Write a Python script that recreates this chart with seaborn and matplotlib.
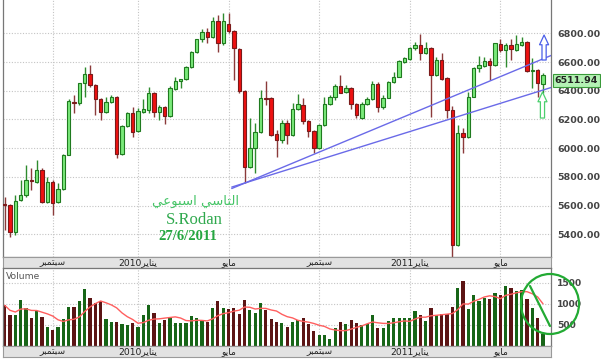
import re
import numpy as np
import pandas as pd
import matplotlib
matplotlib.use("Agg")
import matplotlib.pyplot as plt
import seaborn as sns
from matplotlib.patches import Ellipse
from matplotlib.lines import Line2D
from matplotlib.transforms import blended_transform_factory

# ---------------- data ----------------
opens = [5611,5604,5416,5639,5674,5778,5764,5848,5625,5764,
         5625,5716,5952,6322,6315,6454,6517,6440,6342,6252,
         6322,6356,5959,6154,6245,6120,6252,6266,6384,6252,
         6287,6224,6412,6468,6482,6565,6670,6760,6809,6774,
         6886,6732,6865,6816,6691,6398,5869,6001,6113,6349,
         6349,6099,6057,6175,6092,6273,6301,6189,6120,6001,
         6161,6308,6356,6433,6391,6419,6308,6210,6308,6342,
         6447,6287,6349,6461,6496,6600,6621,6698,6719,6663,
         6698,6510,6614,6489,6266,5326,6106,6078,6356,6558,
         6572,6607,6579,6725,6684,6719,6684,6719,6739,6537,
         6544,6447]
highs = [5660,5610,5674,5778,5883,5862,5918,5862,5799,5778,
         5757,5959,6342,6370,6454,6565,6579,6447,6349,6356,
         6370,6363,6161,6252,6287,6280,6342,6426,6391,6301,
         6294,6433,6496,6482,6572,6677,6760,6830,6837,6914,
         6928,6941,6941,6823,6698,6405,6210,6175,6405,6468,
         6356,6127,6196,6196,6315,6377,6349,6196,6127,6168,
         6356,6370,6447,6510,6440,6426,6315,6322,6356,6468,
         6461,6370,6468,6530,6614,6635,6705,6739,6795,6739,
         6705,6635,6663,6496,6294,6161,6140,6391,6565,6642,
         6635,6628,6732,6760,6732,6760,6788,6774,6746,6628,
         6551,6524]
lows = [5430,5381,5395,5632,5660,5709,5757,5618,5620,5534,
        5618,5710,5950,6245,6300,6356,6426,6231,6196,6245,
        6315,5931,5952,6147,6078,6113,6245,6245,6217,6196,
        6168,6217,6405,6419,6475,6558,6663,6739,6732,6767,
        6670,6719,6802,6475,6384,5757,5862,5827,6106,6301,
        6085,5939,6036,6029,6085,6266,6168,6078,5966,5994,
        6154,6301,6336,6384,6384,6273,6210,6203,6301,6336,
        6252,6273,6349,6454,6496,6593,6614,6684,6614,6656,
        6217,6503,6475,6210,5230,5320,5966,6071,6356,6530,
        6565,6475,6572,6670,6565,6614,6677,6712,6530,6419,
        6356,6384]
closes = [5604,5416,5632,5674,5778,5771,5848,5625,5764,5618,
          5716,5952,6328,6315,6454,6517,6440,6342,6252,6322,
          6356,5959,6154,6245,6113,6259,6273,6384,6252,6287,
          6224,6419,6468,6482,6565,6670,6760,6809,6774,6886,
          6732,6886,6816,6698,6398,5869,6001,6113,6349,6342,
          6092,6057,6175,6092,6273,6308,6189,6120,6001,6161,
          6308,6356,6433,6384,6419,6308,6231,6308,6342,6447,
          6287,6349,6461,6496,6607,6628,6698,6719,6663,6698,
          6510,6614,6482,6266,5326,6106,6078,6356,6558,6579,
          6607,6579,6732,6684,6719,6691,6725,6739,6537,6544,
          6454,6511.94]
volumes = [961,722,722,1080,903,650,824,681,442,363,
           450,626,920,920,1063,1343,1128,1008,1063,626,
           569,569,506,490,545,442,722,961,769,545,
           609,650,545,530,545,705,650,585,562,889,
           1063,889,865,903,746,1087,848,769,1008,848,
           645,570,545,450,562,609,665,522,347,251,
           251,148,426,562,522,602,545,482,506,729,
           426,426,585,665,650,650,650,824,729,585,
           903,722,746,746,927,1382,1541,865,1200,1063,
           1143,1119,1247,1200,1422,1382,1303,1327,1119,903,
           665,280]
ma_window = 7

month_pos = [9, 25, 42, 59, 76, 93]
month_labels = ["سبتمبر", "يناير2010", "مايو", "سبتمبر", "يناير2011", "مايو"]
price_ticks = [5400, 5600, 5800, 6000, 6200, 6400, 6600, 6800]
vol_ticks = [500, 1000, 1500]

# hand-drawn annotations (trend lines and arrows) in chart units
trend_x = [42.6, 103.0]
trend_upper = [5719, 6653]
trend_lower = [5729, 6428]
arrow_x = [101.2, 100.9]
arrow_tip = [6788, 6391]
arrow_tail = [6614, 6210]
arrow_colors = ["#4a5ee8", "#4ccf6e"]

note_lines = ["التاسي اسبوعي", "S.Rodan", "27/6/2011"]

# ---------------- arabic shaping helpers ----------------
FORMS = {
    "ا": (0xFE8D, 0xFE8E, None, None),
    "ب": (0xFE8F, 0xFE90, 0xFE91, 0xFE92),
    "ت": (0xFE95, 0xFE96, 0xFE97, 0xFE98),
    "ر": (0xFEAD, 0xFEAE, None, None),
    "س": (0xFEB1, 0xFEB2, 0xFEB3, 0xFEB4),
    "ع": (0xFEC9, 0xFECA, 0xFECB, 0xFECC),
    "ل": (0xFEDD, 0xFEDE, 0xFEDF, 0xFEE0),
    "م": (0xFEE1, 0xFEE2, 0xFEE3, 0xFEE4),
    "ن": (0xFEE5, 0xFEE6, 0xFEE7, 0xFEE8),
    "و": (0xFEED, 0xFEEE, None, None),
    "ي": (0xFEF1, 0xFEF2, 0xFEF3, 0xFEF4),
}


def shape(w):
    out = []
    n = len(w)
    for i, ch in enumerate(w):
        if ch not in FORMS:
            out.append(ch)
            continue
        iso, fin, ini, med = FORMS[ch]
        pj = i > 0 and w[i - 1] in FORMS and FORMS[w[i - 1]][2] is not None
        nj = i < n - 1 and w[i + 1] in FORMS and ini is not None
        cp = med if (pj and nj) else fin if pj else ini if nj else iso
        out.append(chr(cp))
    return "".join(out)


def rtl(s):
    runs = re.findall(r"[0-9A-Za-z./]+|[^0-9A-Za-z./]+", s)
    vis = [r if re.match(r"[0-9A-Za-z./]", r) else shape(r)[::-1] for r in runs]
    return "".join(vis[::-1])


# ---------------- figure ----------------
sns.set_style("white")
plt.rcParams["font.family"] = ["DejaVu Sans"]

W, H = 601, 359
fig = plt.figure(figsize=(W / 100, H / 100), dpi=100)
fig.patch.set_facecolor("white")


def fax(x0, y0, x1, y1):
    return fig.add_axes([x0 / W, 1 - y1 / H, (x1 - x0) / W, (y1 - y0) / H])


ax = fax(3, 0, 551, 257)
strip1 = fax(3, 257, 551, 268)
vax = fax(3, 268, 551, 346)
strip2 = fax(3, 346, 551, 357)

df = pd.DataFrame({"i": np.arange(len(opens)), "open": opens, "high": highs,
                   "low": lows, "close": closes, "volume": volumes})
df["dir"] = np.where(df["close"] >= df["open"], "up", "down")
df["ma"] = df["volume"].rolling(ma_window, min_periods=1).mean()
up = df["dir"] == "up"

XL = (-0.32, 102.5)
grid_kw = dict(color="#c4c4c4", ls=(0, (1, 1.5)), lw=0.8)

# ---- candles ----
ax.set_axisbelow(True)
wick_col = np.where(up, "#2e8b2e", "#8b3a3a")
ax.vlines(df["i"], df["low"], df["high"], colors=wick_col, lw=1.0, zorder=2)
body_h = (df["close"] - df["open"]).abs().clip(lower=4)
ax.bar(df["i"], body_h, bottom=np.minimum(df["open"], df["close"]), width=0.64,
       color=np.where(up, "#7aea7a", "#ee1111"),
       edgecolor=np.where(up, "#1f7a1f", "#7a1a1a"), lw=0.8, zorder=3)

ax.plot(trend_x, trend_upper, color="#6a6ae8", lw=1.0, zorder=4)
ax.plot(trend_x, trend_lower, color="#6a6ae8", lw=1.0, zorder=4)
for x, t0, t1, c in zip(arrow_x, arrow_tip, arrow_tail, arrow_colors):
    ax.annotate("", xy=(x, t0), xytext=(x, t1),
                arrowprops=dict(arrowstyle="simple,head_length=0.7,head_width=0.65,tail_width=0.3",
                                fc="white", ec=c, lw=0.9, mutation_scale=10,
                                shrinkA=0, shrinkB=0), zorder=5)

ax.set_xlim(*XL)
ax.set_ylim(5242, 7032)
ax.set_xticks(month_pos)
ax.set_xticklabels([])
ax.set_yticks(price_ticks)
ax.yaxis.tick_right()
ax.set_yticklabels([f"{v:.2f}" for v in price_ticks])
ax.tick_params(axis="both", length=0)
ax.tick_params(axis="y", pad=4.3, labelsize=6.8, labelcolor="#444444")
for lb in ax.get_yticklabels():
    lb.set_fontweight("bold")
ax.grid(True, **grid_kw)
for s in ["left", "right", "bottom"]:
    ax.spines[s].set_color("#777777")
    ax.spines[s].set_linewidth(0.9)
ax.spines["top"].set_visible(False)

bt = blended_transform_factory(ax.transAxes, ax.transData)
ax.annotate(f"{closes[-1]:.2f}", xy=(1.0, closes[-1]), xycoords=bt,
            xytext=(2.5, -4.3), textcoords="offset points", ha="left", va="center",
            fontsize=6.8, fontweight="bold", color="#222222",
            bbox=dict(boxstyle="square,pad=0.18", fc="#b4f2b4", ec="#3a9a3a", lw=0.8),
            annotation_clip=False)

ax.text(0.352, 0.218, rtl(note_lines[0]), transform=ax.transAxes, ha="center", va="center",
        fontsize=9.5, color="#45c466", family=["DejaVu Sans"])
ax.text(0.350, 0.144, note_lines[1], transform=ax.transAxes, ha="center", va="center",
        fontsize=12, color="#30a94e", family=["Liberation Serif", "DejaVu Serif"])
ax.text(0.338, 0.078, note_lines[2], transform=ax.transAxes, ha="center", va="center",
        fontsize=10.5, fontweight="bold", color="#25a640",
        family=["Liberation Serif", "DejaVu Serif"])

# ---- date strips ----
for st in (strip1, strip2):
    st.set_facecolor("#e2e2e2")
    st.set_xlim(*XL)
    st.set_ylim(0, 1)
    st.set_xticks([])
    st.set_yticks([])
    for s in st.spines.values():
        s.set_color("#9a9a9a")
        s.set_linewidth(0.8)
    for p, lab in zip(month_pos, month_labels):
        st.text(p, 0.45, rtl(lab), ha="center", va="center", fontsize=6.6,
                color="#222222", family=["DejaVu Sans"])

# ---- volume ----
vax.set_axisbelow(True)
sns.barplot(data=df, x="i", y="volume", hue="dir", palette={"up": "#176517", "down": "#5c1414"},
            native_scale=True, dodge=False, width=0.6, errorbar=None, saturation=1,
            legend=False, linewidth=0, ax=vax, zorder=2)
sns.lineplot(data=df, x="i", y="ma", color="#ff5f5f", lw=1.0, ax=vax, zorder=3)
vax.set_xlim(*XL)
vax.set_ylim(-8, 1850)
vax.set_xticks(month_pos)
vax.set_xticklabels([])
vax.set_xlabel("")
vax.set_ylabel("")
vax.set_yticks(vol_ticks)
vax.yaxis.tick_right()
vax.set_yticklabels([str(v) for v in vol_ticks])
vax.tick_params(axis="both", length=0)
vax.tick_params(axis="y", pad=4.3, labelsize=6.6, labelcolor="#444444")
for lb in vax.get_yticklabels():
    lb.set_fontweight("bold")
vax.grid(True, **grid_kw)
for s in ["left", "right", "bottom", "top"]:
    vax.spines[s].set_color("#777777")
    vax.spines[s].set_linewidth(0.9)
vax.text(0.006, 0.955, "Volume", transform=vax.transAxes, ha="left", va="top",
         fontsize=6.6, color="#555555")

# hand-drawn circle on the volume panel
fig.add_artist(Ellipse((550 / W, 1 - 304 / H), 58 / W, 60 / H, angle=0,
                       transform=fig.transFigure, fill=False, ec="#22aa33", lw=1.6))
fig.add_artist(Line2D([530 / W, 550 / W], [1 - 286 / H, 1 - 326 / H],
                      transform=fig.transFigure, color="#22aa33", lw=1.6))

fig.savefig("out.png", dpi=100)
